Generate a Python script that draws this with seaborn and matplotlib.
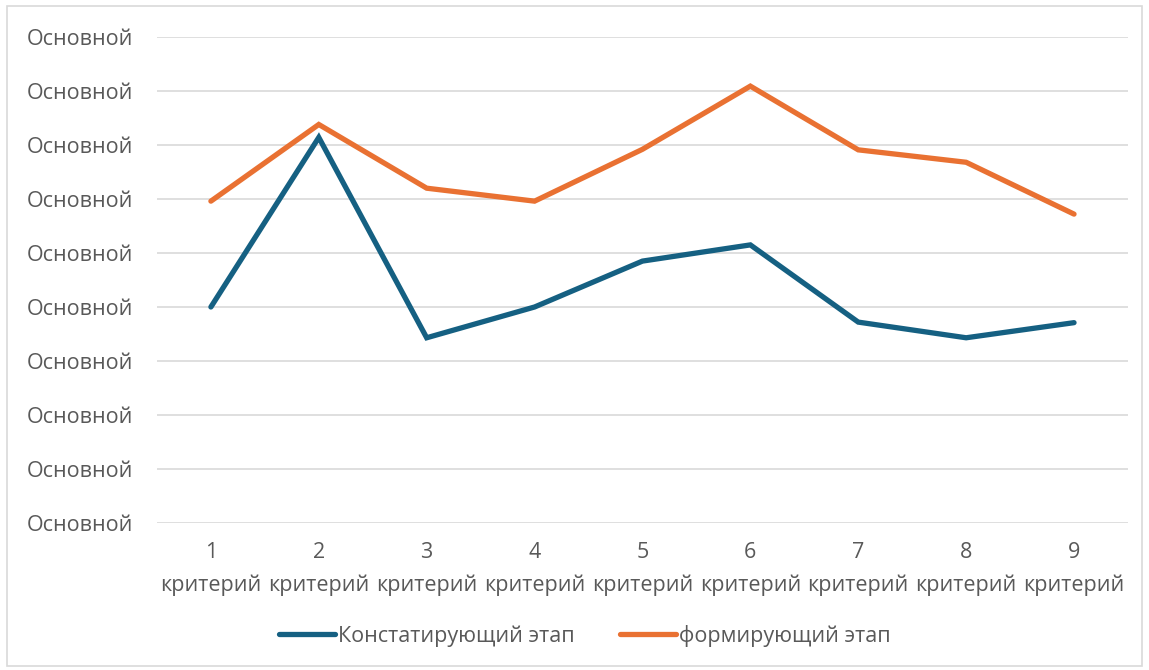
import pandas as pd
import matplotlib.pyplot as plt
import seaborn as sns

# === Datos ===
criterios = ["1\nкритерий", "2\nкритерий", "3\nкритерий", "4\nкритерий", "5\nкритерий",
             "6\nкритерий", "7\nкритерий", "8\nкритерий", "9\nкритерий"]
konstat = [4.0, 7.14, 3.43, 4.0, 4.85, 5.15, 3.72, 3.43, 3.71]
formir = [5.96, 7.38, 6.2, 5.96, 6.92, 8.09, 6.91, 6.68, 5.72]
series_names = ["Констатирующий этап", "формирующий этап"]
y_ticks = list(range(10))
y_labels = ["Основной"] * 10

df = pd.DataFrame({"Критерий": criterios * 2,
                   "Значение": konstat + formir,
                   "Серия": [series_names[0]] * 9 + [series_names[1]] * 9})

sns.set_style("white")
plt.rcParams["font.family"] = ["Open Sans", "DejaVu Sans"]

fig = plt.figure(figsize=(11.49, 6.70), dpi=100)
ax = fig.add_axes([0.1366, 0.2194, 0.8451, 0.7254])

sns.lineplot(data=df, x="Критерий", y="Значение", hue="Серия", sort=False,
             palette=["#156082", "#E97132"], linewidth=3.8, ax=ax,
             solid_capstyle="round", solid_joinstyle="miter")

ax.set_xlim(-0.5, 8.5)
ax.set_ylim(0, 9)
ax.set_yticks(y_ticks)
ax.set_yticklabels(y_labels)
ax.yaxis.grid(True, color="#D9D9D9", linewidth=1.2)
ax.set_axisbelow(True)
for s in ax.spines.values():
    s.set_visible(False)
ax.tick_params(axis="both", length=0, labelsize=15.5, labelcolor="#595959")
ax.tick_params(axis="y", pad=17)
ax.tick_params(axis="x", pad=14)
for lab in ax.get_xticklabels():
    lab.set_linespacing(1.7)
ax.set_xlabel("")
ax.set_ylabel("")

# leyenda centrada en la figura
handles, labels = ax.get_legend_handles_labels()
ax.get_legend().remove()
leg = fig.legend(handles, labels, loc="center", bbox_to_anchor=(0.509, 0.051), ncol=2,
                 frameon=False, fontsize=15.5, handlelength=2.6, handletextpad=0.15,
                 columnspacing=2.1)
for t in leg.get_texts():
    t.set_color("#595959")

# marco exterior
fig.patches.append(plt.Rectangle((0.006, 0.006), 0.988, 0.985, transform=fig.transFigure,
                                 fill=False, edgecolor="#D9D9D9", linewidth=1.2))

plt.savefig("out.png", dpi=100)
